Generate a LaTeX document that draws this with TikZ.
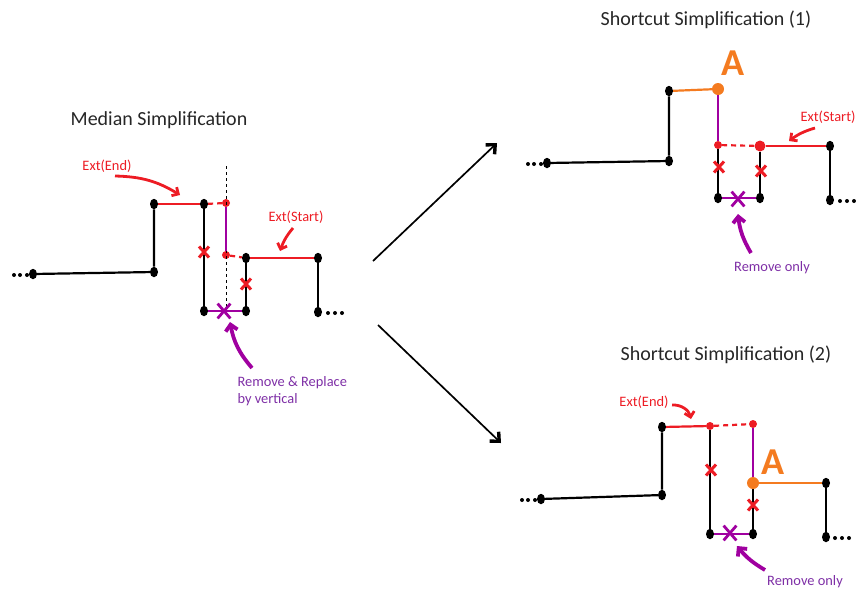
\documentclass[tikz,border=0pt]{standalone}
\usepackage{fontspec}
\setmainfont{Carlito}
\usepackage{tikz}
\usetikzlibrary{arrows.meta,shapes.geometric,shapes.misc}
\definecolor{ink}{HTML}{262626}
\definecolor{extred}{HTML}{ED1C24}
\definecolor{medpurple}{HTML}{A000A0}
\definecolor{notepurple}{HTML}{7E2FA6}
\definecolor{aorange}{HTML}{F47B20}
\tikzset{
  bdot/.style={ellipse, fill=black, inner sep=0pt, minimum width=8pt, minimum height=10.5pt},
  rdot/.style={circle, fill=extred, inner sep=0pt, minimum size=8pt},
  bigrdot/.style={rdot, minimum size=11pt},
  odot/.style={circle, fill=aorange, inner sep=0pt, minimum size=12pt},
  seg/.style={line width=2.2pt},
  extseg/.style={seg, extred},
  gapseg/.style={seg, extred, dash pattern=on 5pt off 4pt},
  medseg/.style={seg, medpurple},
  aseg/.style={seg, aorange},
  guide/.style={line width=0.8pt, dash pattern=on 3pt off 3pt},
  redx/.style={cross out, draw=extred, line width=3pt, minimum width=7pt, minimum height=8pt, inner sep=0pt},
  purx/.style={cross out, draw=medpurple, line width=2.8pt, minimum width=10pt, minimum height=12pt, inner sep=0pt},
  title/.style={text=ink, font=\fontsize{20}{24}\selectfont},
  extlbl/.style={text=extred, font=\fontsize{14.4}{17}\selectfont},
  notelbl/.style={text=notepurple, font=\fontsize{14.4}{17}\selectfont, align=left},
  alabel/.style={text=aorange, font=\fontsize{38}{38}\selectfont\bfseries},
  extarr/.style={extred, line width=2.8pt, -{Straight Barb[length=5pt, width=10pt, line width=2.8pt]}},
  notearr/.style={medpurple, line width=3.8pt, -{Straight Barb[length=6pt, width=12pt, line width=3.8pt]}},
  bigarr/.style={line width=1.7pt, -{Straight Barb[length=7pt, width=13pt, line width=3.4pt]}}
}
\begin{document}
\begin{tikzpicture}[x=1pt, y=-1pt]
\useasboundingbox (0,0) rectangle (856,590);

% median simplification
\node[title] (tmed) at (159,120) {Median Simplification};
\node[bdot] (m0) at (33,274) {};
\node[bdot] (m1) at (154,272) {};
\node[bdot] (m2) at (154,204) {};
\node[bdot] (m3) at (204,204) {};
\node[bdot] (m4) at (204,311) {};
\node[rdot] (m5) at (226,203) {};
\node[rdot] (m6) at (226,255) {};
\node[bdot] (m7) at (246,258) {};
\node[bdot] (m8) at (246,311) {};
\node[bdot] (m9) at (318,258) {};
\node[bdot] (m10) at (318,312) {};
\coordinate (mtop) at (226,166);
\coordinate (mbot) at (226,311);
\draw[guide] (mtop) -- (mbot);
\draw[seg] (m0) -- (m1) -- (m2);
\draw[extseg] (m2) -- (m3);
\draw[seg] (m3) -- (m4);
\draw[gapseg] (m3) -- (m5);
\draw[medseg] (m5) -- (m6);
\draw[gapseg] (m6) -- (m7);
\draw[extseg] (m7) -- (m9);
\draw[seg] (m7) -- (m8);
\draw[seg] (m9) -- (m10);
\draw[medseg] (m4) -- (m8);
\node[redx] (mx1) at (204,252) {};
\node[redx] (mx2) at (246,284) {};
\node[purx] (mx3) at (224,311) {};
\foreach \x in {14,20,27} \fill (\x,275) circle (2);
\foreach \x in {328,335,342} \fill (\x,313) circle (2);

\node[extlbl] (mext1) at (107,166) {Ext(End)};
\coordinate (mext1a) at (115,176);
\coordinate (mext1b) at (180,195);
\draw[extarr] (mext1a) to[bend left=15] (mext1b);
\node[extlbl] (mext2) at (296,217) {Ext(Start)};
\coordinate (mext2a) at (293,228);
\coordinate (mext2b) at (280,251);
\draw[extarr] (mext2a) to[bend right=10] (mext2b);
\node[notelbl, anchor=west] (mnote) at (234,391) {Remove \& Replace\\by vertical};
\coordinate (mnotea) at (252,368);
\coordinate (mnoteb) at (230,322);
\draw[notearr] (mnotea) to[bend left=15] (mnoteb);

% shortcut simplification (1)
\node[title] (tsc1) at (706,20) {Shortcut Simplification (1)};
\node[bdot] (a0) at (547,163) {};
\node[bdot] (a1) at (669,161) {};
\node[bdot] (a2) at (669,91) {};
\node[odot] (a3) at (718,89) {};
\node[rdot] (a4) at (718,145) {};
\node[bigrdot] (a5) at (760,146) {};
\node[bdot] (a6) at (830,146) {};
\node[bdot] (a7) at (830,200) {};
\node[bdot] (a8) at (718,198) {};
\node[bdot] (a9) at (760,198) {};
\draw[seg] (a0) -- (a1) -- (a2);
\draw[aseg] (a2) -- (a3);
\draw[medseg] (a3) -- (a4);
\draw[gapseg] (a4) -- (a5);
\draw[extseg] (a5) -- (a6);
\draw[seg] (a6) -- (a7);
\draw[seg] (a4) -- (a8);
\draw[seg] (a5) -- (a9);
\draw[medseg] (a8) -- (a9);
\node[redx] (ax1) at (719,167) {};
\node[redx] (ax2) at (761,171) {};
\node[purx] (ax3) at (738,199) {};
\foreach \x in {528,534,541} \fill (\x,164) circle (2);
\foreach \x in {840,847,854} \fill (\x,201) circle (2);
\node[alabel] (alab1) at (733,63) {A};
\node[extlbl] (aext) at (828,117) {Ext(Start)};
\coordinate (aexta) at (815,128);
\coordinate (aextb) at (789,141);
\draw[extarr] (aexta) to[bend right=10] (aextb);
\node[notelbl] (anote) at (772,268) {Remove only};
\coordinate (anotea) at (751,253);
\coordinate (anoteb) at (738,214);
\draw[notearr] (anotea) to[bend left=12] (anoteb);

% shortcut simplification (2)
\node[title] (tsc2) at (726,355) {Shortcut Simplification (2)};
\node[bdot] (b0) at (541,499) {};
\node[bdot] (b1) at (662,495) {};
\node[bdot] (b2) at (662,427) {};
\node[rdot] (b3) at (710,426) {};
\node[rdot] (b4) at (753,424) {};
\node[odot] (b5) at (753,483) {};
\node[bdot] (b6) at (826,483) {};
\node[bdot] (b7) at (826,537) {};
\node[bdot] (b8) at (710,534) {};
\node[bdot] (b9) at (753,534) {};
\draw[seg] (b0) -- (b1) -- (b2);
\draw[extseg] (b2) -- (b3);
\draw[gapseg] (b3) -- (b4);
\draw[medseg] (b4) -- (b5);
\draw[aseg] (b5) -- (b6);
\draw[seg] (b6) -- (b7);
\draw[seg] (b3) -- (b8);
\draw[seg] (b5) -- (b9);
\draw[medseg] (b8) -- (b9);
\node[redx] (bx1) at (711,470) {};
\node[redx] (bx2) at (753,505) {};
\node[purx] (bx3) at (730,533) {};
\foreach \x in {522,528,535} \fill (\x,500) circle (2);
\foreach \x in {835,842,849} \fill (\x,538) circle (2);
\node[alabel] (alab2) at (773,462) {A};
\node[extlbl] (bext) at (644,402) {Ext(End)};
\coordinate (bexta) at (672,405);
\coordinate (bextb) at (691,419);
\draw[extarr] (bexta) to[bend left=40] (bextb);
\node[notelbl] (bnote) at (805,582) {Remove only};
\coordinate (bnotea) at (765,570);
\coordinate (bnoteb) at (737,546);
\draw[notearr] (bnotea) to[bend left=10] (bnoteb);

% transitions
\coordinate (up0) at (373,261);
\coordinate (up1) at (497,143);
\coordinate (dn0) at (378,325);
\coordinate (dn1) at (501,443);
\draw[bigarr] (up0) -- (up1);
\draw[bigarr] (dn0) -- (dn1);
\end{tikzpicture}
\end{document}
